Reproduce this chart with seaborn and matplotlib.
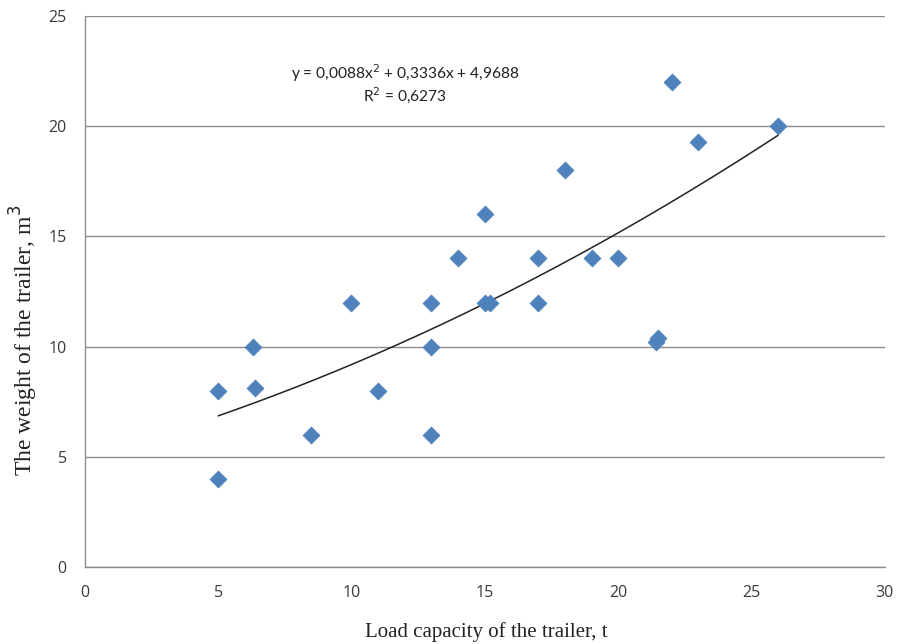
import numpy as np
import pandas as pd
import seaborn as sns
import matplotlib.pyplot as plt

# data
load_capacity = [5, 5, 6.3, 6.4, 8.5, 10, 11, 13, 13, 13, 14, 15, 15, 15.2,
                 17, 17, 18, 19, 20, 21.4, 21.5, 22, 23, 26]
trailer_weight = [8, 4, 10, 8.1, 6, 12, 8, 12, 10, 6, 14, 16, 12, 12,
                  14, 12, 18, 14, 14, 10.2, 10.4, 22, 19.3, 20]

# polynomial trendline as printed on the chart (a2, a1, a0)
trend_coef = [0.0088, 0.3336, 4.9688]
r_squared = 0.6273

df = pd.DataFrame({'load': load_capacity, 'weight': trailer_weight})

sns.set_style('white')
fig = plt.figure(figsize=(9.02, 6.44), dpi=100)
ax = fig.add_axes([0.094, 0.1196, 0.887, 0.8555])

sns.scatterplot(x='load', y='weight', data=df, marker='D', s=75,
                color='#4F81BD', edgecolor='#4F81BD', linewidth=0.5, ax=ax, zorder=3)

# trendline
xs = np.linspace(min(load_capacity), max(load_capacity), 200)
ax.plot(xs, np.polyval(trend_coef, xs), color='#222222', lw=1.1, zorder=2)

eq = 'y = 0,0088x$^2$ + 0,3336x + 4,9688'
ax.text(12.0, 22.4, eq, ha='center', va='center', fontsize=11.2,
        family='Lato', color='#222222')
ax.text(12.0, 21.4, 'R$^2$ = ' + f'{r_squared}'.replace('.', ','), ha='center',
        va='center', fontsize=11.2, family='Lato', color='#222222')

ax.set_xlim(0, 30)
ax.set_ylim(0, 25)
ax.set_xticks(range(0, 31, 5))
ax.set_yticks(range(0, 26, 5))
ax.yaxis.grid(True, color='#8c8c8c', lw=1)
ax.xaxis.grid(False)
ax.set_axisbelow(True)

for side in ['top', 'right']:
    ax.spines[side].set_visible(False)
for side in ['left', 'bottom']:
    ax.spines[side].set_color('#8c8c8c')
    ax.spines[side].set_linewidth(1)

ax.tick_params(axis='both', direction='out', length=5, width=1, color='#8c8c8c',
               labelsize=11.5, labelcolor='#3a3a3a', pad=8)
for lab in ax.get_xticklabels() + ax.get_yticklabels():
    lab.set_family('Open Sans')

ax.set_xlabel('')
ax.set_ylabel('')
fig.text(0.539, 0.019, 'Load capacity of the trailer, t', family='Liberation Serif',
         fontsize=15, color='#222222', ha='center', va='center')
fig.text(0.027, 0.472, 'The weight of the trailer, m$^3$', family='Liberation Serif',
         fontsize=17, color='#222222', ha='center', va='center', rotation=90)

fig.savefig('out.png', dpi=100)
